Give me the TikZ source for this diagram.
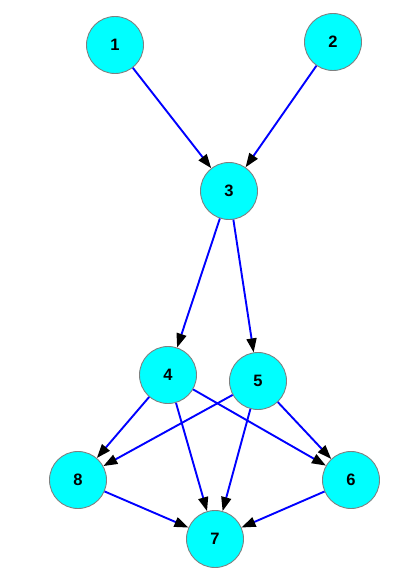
\documentclass[tikz,border=0pt]{standalone}
\usepackage{fontspec}
\setmainfont{Liberation Sans}
\usepackage{xcolor}
\usepackage{tikz}
\usetikzlibrary{arrows.meta}
\definecolor{nodecyan}{RGB}{0,255,255}
\definecolor{edgeblue}{RGB}{0,0,255}
\definecolor{rimgray}{RGB}{128,128,128}
\tikzstyle{vertex} = [circle, minimum size=57pt, inner sep=0pt, draw=rimgray, line width=0.9pt, fill=nodecyan, font=\fontsize{16.5}{16.5}\selectfont\bfseries]
\tikzstyle{edge} = [draw=edgeblue, line width=1.9pt, -{Triangle[length=14pt,width=10pt,color=black]}]

\begin{document}
\begin{tikzpicture}[x=1pt, y=-1pt]
                    \useasboundingbox (0,0) rectangle (417,580);
                    \node (n1) [vertex] at (115,45) {1};
                    \node (n2) [vertex] at (333,42) {2};
                    \node (n3) [vertex] at (229,191) {3};
                    \node (n4) [vertex] at (168,375) {4};
                    \node (n5) [vertex] at (258,381) {5};
                    \node (n8) [vertex] at (78,480) {8};
                    \node (n6) [vertex] at (351,480) {6};
                    \node (n7) [vertex] at (215,539) {7};

                    \draw [edge] (n1) -- (n3);
                    \draw [edge] (n2) -- (n3);
                    \draw [edge] (n3) -- (n4);
                    \draw [edge] (n3) -- (n5);
                    \draw [edge] (n4) -- (n8);
                    \draw [edge] (n4) -- (n7);
                    \draw [edge] (n4) -- (n6);
                    \draw [edge] (n5) -- (n8);
                    \draw [edge] (n5) -- (n7);
                    \draw [edge] (n5) -- (n6);
                    \draw [edge] (n8) -- (n7);
                    \draw [edge] (n6) -- (n7);
                \end{tikzpicture}
\end{document}
